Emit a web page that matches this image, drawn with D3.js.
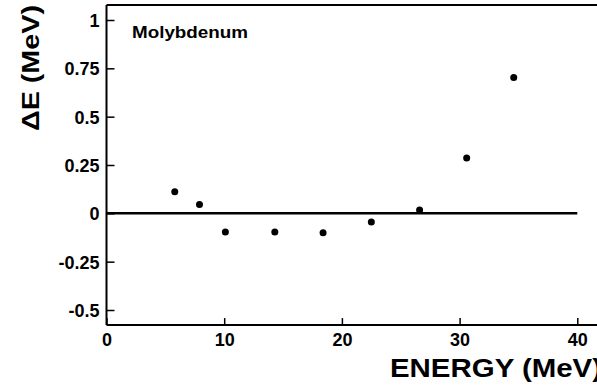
<!DOCTYPE html>
<html>
<head>
<meta charset="utf-8">
<script src="https://cdn.jsdelivr.net/npm/d3@7"></script>
<style>
  html, body { margin: 0; padding: 0; background: #fff; }
  svg { display: block; }
  text { font-family: "Liberation Sans", Arial, Helvetica, sans-serif; font-weight: bold; fill: #000; }
</style>
</head>
<body>
<svg id="chart" width="597" height="387"></svg>
<script>
// Energy shift vs. beam energy for molybdenum
const energies = [5.8, 7.9, 10.1, 14.3, 18.4, 22.5, 26.6, 30.6, 34.6];
const deltaE   = [0.112, 0.046, -0.097, -0.097, -0.100, -0.045, 0.017, 0.286, 0.703];

const xTicks = [0, 10, 20, 30, 40];
const yTicks = [1, 0.75, 0.5, 0.25, 0, -0.25, -0.5];
const yTickLabels = ["1", "0.75", "0.5", "0.25", "0", "-0.25", "-0.5"];

const svg = d3.select("#chart");

const x = d3.scaleLinear().domain([0, 40]).range([106.5, 577.3]);
const y = d3.scaleLinear().domain([-0.5, 1]).range([310, 20]);

// plot frame extents (data units)
const xMin = 0, xMax = 42;
const yMin = -0.578, yMax = 1.078;

const frame = svg.append("g").attr("stroke", "#000").attr("stroke-width", 2).attr("fill", "none");
frame.append("line").attr("x1", x(xMin)).attr("x2", x(xMin)).attr("y1", y(yMax)).attr("y2", y(yMin));
frame.append("line").attr("x1", x(xMin)).attr("x2", x(xMax)).attr("y1", y(yMin)).attr("y2", y(yMin));
frame.append("line").attr("x1", x(xMin)).attr("x2", x(xMax)).attr("y1", y(yMax)).attr("y2", y(yMax));

// y axis, ticks pointing inward
const yAxis = d3.axisLeft(y)
  .tickValues(yTicks)
  .tickFormat((d, i) => yTickLabels[i])
  .tickSizeInner(-8).tickSizeOuter(0).tickPadding(7);
const gy = svg.append("g").attr("transform", `translate(${x(xMin)},0)`).call(yAxis);
gy.select(".domain").remove();
gy.selectAll(".tick line").attr("stroke-width", 1.5);
gy.selectAll(".tick text").attr("font-size", 18).attr("font-family", null).attr("dy", "0.36em");

// x axis, ticks pointing inward
const xAxis = d3.axisBottom(x)
  .tickValues(xTicks)
  .tickFormat(d3.format("d"))
  .tickSizeInner(-7).tickSizeOuter(0).tickPadding(8);
const gx = svg.append("g").attr("transform", `translate(0,${y(yMin)})`).call(xAxis);
gx.select(".domain").remove();
gx.selectAll(".tick line").attr("stroke-width", 1.5);
gx.selectAll(".tick text").attr("font-size", 18).attr("font-family", null);

// zero reference line
svg.append("line")
  .attr("x1", x(0)).attr("x2", x(40))
  .attr("y1", y(0)).attr("y2", y(0))
  .attr("stroke", "#000").attr("stroke-width", 2.5);

// data points
svg.append("g").selectAll("circle")
  .data(energies.map((e, i) => [e, deltaE[i]]))
  .join("circle")
  .attr("cx", d => x(d[0]))
  .attr("cy", d => y(d[1]))
  .attr("r", 3.5)
  .attr("fill", "#000");

// labels
svg.append("text")
  .attr("x", 132).attr("y", 38)
  .attr("font-size", 17)
  .attr("textLength", 116).attr("lengthAdjust", "spacingAndGlyphs")
  .text("Molybdenum");

svg.append("text")
  .attr("x", 390).attr("y", 377)
  .attr("font-size", 26)
  .attr("textLength", 212).attr("lengthAdjust", "spacingAndGlyphs")
  .text("ENERGY (MeV)");

svg.append("text")
  .attr("transform", "translate(39,131) rotate(-90)")
  .attr("font-size", 24)
  .attr("textLength", 126).attr("lengthAdjust", "spacingAndGlyphs")
  .text("ΔE (MeV)");
</script>
</body>
</html>
